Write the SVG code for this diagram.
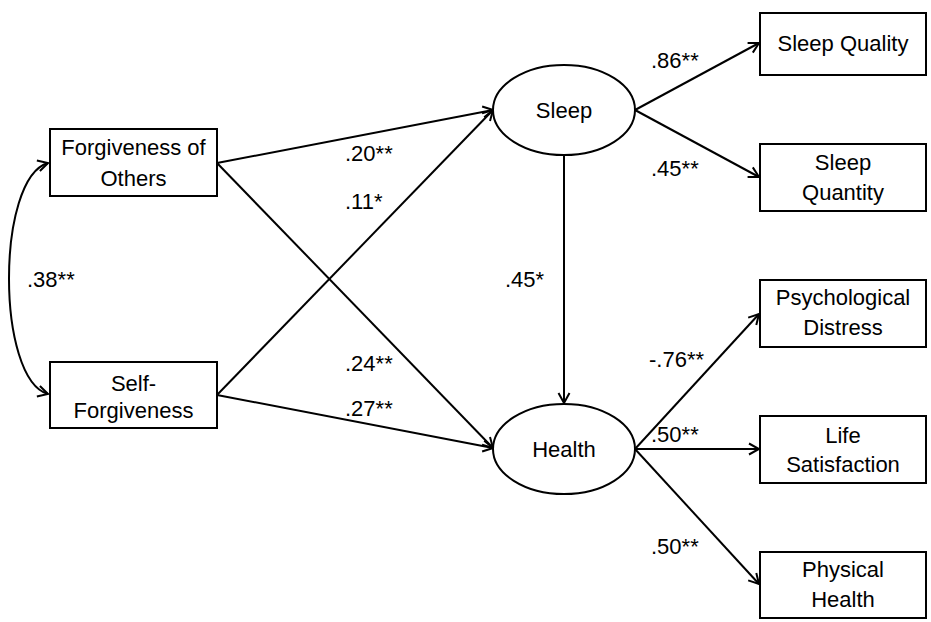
<svg xmlns="http://www.w3.org/2000/svg" width="931" height="622" viewBox="0 0 931 622">
<defs>
<marker id="arr" markerUnits="userSpaceOnUse" markerWidth="14" markerHeight="14" viewBox="0 0 14 14" refX="12" refY="7" orient="auto-start-reverse">
<path d="M2,1.5 L12,7 L2,12.5" fill="none" stroke="#000" stroke-width="2"/>
</marker>
</defs>
<style>
.box{fill:#fff;stroke:#000;stroke-width:2}
.t{font-family:"Liberation Sans",Arial,sans-serif;font-size:22px;fill:#000;text-anchor:middle}
.l{font-family:"Liberation Sans",Arial,sans-serif;font-size:22px;fill:#000}
.c{fill:none;stroke:#000;stroke-width:2;marker-end:url(#arr)}
</style>
<rect width="931" height="622" fill="#fff"/>
<g id="connectors">
<path class="c" d="M48,163 C-4,178 -4,379 48,394" marker-start="url(#arr)"/>
<line class="c" x1="217" y1="163" x2="493" y2="110"/>
<line class="c" x1="217" y1="163" x2="493" y2="448"/>
<line class="c" x1="217" y1="395" x2="493" y2="110"/>
<line class="c" x1="217" y1="395" x2="493" y2="448"/>
<line class="c" x1="564" y1="155" x2="564" y2="403"/>
<line class="c" x1="635" y1="110" x2="759" y2="43"/>
<line class="c" x1="635" y1="110" x2="759" y2="177"/>
<line class="c" x1="635" y1="449" x2="759" y2="314"/>
<line class="c" x1="635" y1="449" x2="759" y2="449"/>
<line class="c" x1="635" y1="449" x2="759" y2="584"/>
</g>
<g id="labels">
<text class="l" x="27" y="287">.38**</text>
<text class="l" x="345" y="161">.20**</text>
<text class="l" x="345" y="209">.11*</text>
<text class="l" x="345" y="371">.24**</text>
<text class="l" x="345" y="416">.27**</text>
<text class="l" x="505" y="287">.45*</text>
<text class="l" x="651" y="68">.86**</text>
<text class="l" x="651" y="176">.45**</text>
<text class="l" x="649" y="367">-.76**</text>
<text class="l" x="651" y="442">.50**</text>
<text class="l" x="651" y="554">.50**</text>
</g>
<g id="forgiveness-of-others">
<rect class="box" x="50" y="129" width="167" height="67"/>
<text class="t" x="133.5" y="155">Forgiveness of</text>
<text class="t" x="133.5" y="186">Others</text>
</g>
<g id="self-forgiveness">
<rect class="box" x="50" y="362" width="167" height="66"/>
<text class="t" x="133.5" y="391">Self-</text>
<text class="t" x="133.5" y="418">Forgiveness</text>
</g>
<g id="sleep">
<ellipse class="box" cx="564" cy="110" rx="71" ry="45"/>
<text class="t" x="564" y="118">Sleep</text>
</g>
<g id="health">
<ellipse class="box" cx="564" cy="449" rx="71" ry="45"/>
<text class="t" x="564" y="457">Health</text>
</g>
<g id="sleep-quality">
<rect class="box" x="760" y="13" width="166" height="62"/>
<text class="t" x="843" y="51">Sleep Quality</text>
</g>
<g id="sleep-quantity">
<rect class="box" x="760" y="144" width="166" height="67"/>
<text class="t" x="843" y="170">Sleep</text>
<text class="t" x="843" y="200">Quantity</text>
</g>
<g id="psychological-distress">
<rect class="box" x="760" y="280" width="166" height="67"/>
<text class="t" x="843" y="305">Psychological</text>
<text class="t" x="843" y="335">Distress</text>
</g>
<g id="life-satisfaction">
<rect class="box" x="760" y="416" width="166" height="67"/>
<text class="t" x="843" y="443">Life</text>
<text class="t" x="843" y="472">Satisfaction</text>
</g>
<g id="physical-health">
<rect class="box" x="760" y="552" width="166" height="66"/>
<text class="t" x="843" y="577">Physical</text>
<text class="t" x="843" y="607">Health</text>
</g>
</svg>
